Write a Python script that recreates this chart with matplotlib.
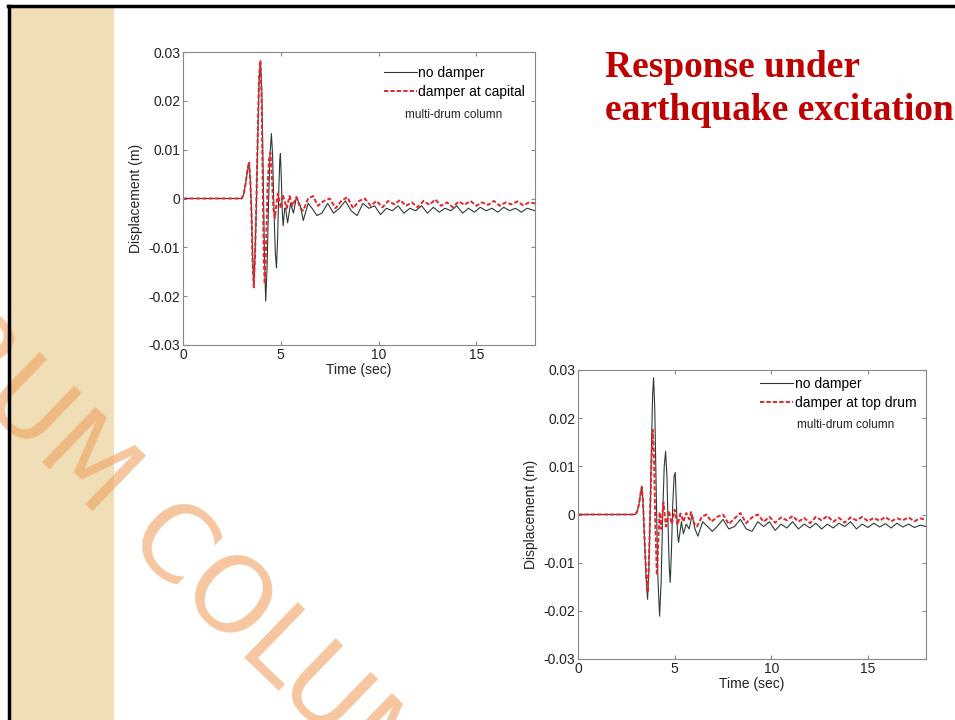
import matplotlib
matplotlib.use('Agg')
import matplotlib.pyplot as plt
from matplotlib.patches import Rectangle
from matplotlib.lines import Line2D

# ---- data (time in s, displacement in m) ----
# top plot: damper at capital
t1_nodamp = [0, 3.0, 3.1, 3.2, 3.3, 3.38, 3.44, 3.5, 3.56, 3.62, 3.68, 3.75, 3.82, 3.89, 3.96, 4.03,
             4.1, 4.17, 4.23, 4.3, 4.38, 4.45, 4.52, 4.58, 4.65, 4.72, 4.78, 4.84, 4.9, 4.95, 4.98, 5.03,
             5.08, 5.12, 5.2, 5.25, 5.35, 5.5, 5.65, 5.8,
             6.0, 6.15, 6.4, 6.6, 6.85, 7.1, 7.4, 7.7, 8.0, 8.3, 8.6, 8.9, 9.2, 9.5, 9.8, 10.1, 10.4,
             10.7, 11.0, 11.3, 11.6, 11.9, 12.2, 12.5, 12.8, 13.1, 13.4, 13.7, 14.0, 14.3, 14.6, 14.9,
             15.2, 15.5, 15.8, 16.1, 16.4, 16.7, 17.0, 17.3, 17.6, 18.0]
y1_nodamp = [0, 0, 0.0008, 0.003, 0.0058, 0.007, 0.004, -0.002, -0.012, -0.0178, -0.012, -0.002, 0.012,
             0.024, 0.028, 0.022, 0.005, -0.013, -0.021, -0.014, 0.0, 0.009, 0.0133, 0.009, -0.002, -0.011,
             -0.0142, -0.008, 0.002, 0.008, 0.0092, 0.004, -0.003, -0.0056, -0.002, -0.002,
             -0.005, -0.001, -0.003, 0.0003, -0.0015, -0.0045, -0.001, -0.002, -0.0035, -0.003, -0.001,
             -0.003, -0.002, -0.0005, -0.0025, -0.0035, -0.001, -0.002, -0.0015, -0.0033, -0.002, -0.0025,
             -0.0015, -0.003, -0.002, -0.0025, -0.0015, -0.003, -0.0018, -0.0028, -0.002, -0.0025, -0.0015,
             -0.003, -0.002, -0.0028, -0.0018, -0.0025, -0.002, -0.0028, -0.0018, -0.0025, -0.002, -0.0028,
             -0.002, -0.0025]
t1_damp = [0, 3.0, 3.1, 3.2, 3.3, 3.38, 3.44, 3.5, 3.56, 3.62, 3.68, 3.75, 3.82, 3.89, 3.96, 4.02, 4.08,
           4.13, 4.18, 4.24, 4.32, 4.4, 4.47, 4.54, 4.62, 4.7, 4.78, 4.85, 5.0, 5.1, 5.3, 5.45, 5.6, 5.8,
           6.0, 6.15, 6.4, 6.65, 6.9, 7.2, 7.5, 7.8, 8.1, 8.4, 8.7, 9.0, 9.3, 9.6, 9.9, 10.2, 10.5, 10.8,
           11.1, 11.4, 11.7, 12.0, 12.3, 12.6, 12.9, 13.2, 13.5, 13.8, 14.1, 14.4, 14.7, 15.0, 15.3, 15.6,
           15.9, 16.2, 16.5, 16.8, 17.1, 17.4, 17.7, 18.0]
y1_damp = [0, 0, 0.0008, 0.003, 0.006, 0.0075, 0.004, -0.003, -0.013, -0.0182, -0.012, -0.001, 0.013,
           0.025, 0.0283, 0.02, 0.002, -0.012, -0.0175, -0.011, 0.002, 0.008, 0.0094, 0.005, -0.002, -0.004,
           -0.001, 0.001, -0.002, 0.0008, -0.002, 0.0005, -0.0015, 0.0003, -0.002, -0.0025, 0.0, 0.0005,
           -0.0015, -0.0005, 0.0, -0.002, -0.0005, 0.0003, -0.002, -0.0005, 0.0, -0.0015, -0.0005, -0.0018,
           -0.0005, -0.0012, -0.0003, -0.0015, -0.0008, -0.0018, -0.0005, -0.0013, -0.0002, -0.0015,
           -0.0008, -0.0018, -0.0006, -0.0013, -0.0005, -0.0015, -0.0008, -0.0013, -0.0005, -0.0015,
           -0.0008, -0.0012, -0.0006, -0.0014, -0.0008, -0.001]

# bottom plot: damper at top drum
t2_nodamp = [0, 2.95, 3.05, 3.15, 3.24, 3.3, 3.36, 3.43, 3.52, 3.6, 3.66, 3.73, 3.8, 3.86, 3.91, 3.97,
             4.05, 4.13, 4.22, 4.3, 4.38, 4.46, 4.53, 4.6, 4.67, 4.72, 4.77, 4.83, 4.9, 4.97, 5.03, 5.09,
             5.15, 5.2, 5.35, 5.45, 5.6, 5.75, 5.9,
             6.05, 6.2, 6.45, 6.7, 6.95, 7.2, 7.5, 7.8, 8.1, 8.4, 8.7, 9.0, 9.3, 9.6, 9.9, 10.2, 10.5,
             10.8, 11.1, 11.4, 11.7, 12.0, 12.3, 12.6, 12.9, 13.2, 13.5, 13.8, 14.1, 14.4, 14.7, 15.0,
             15.3, 15.6, 15.9, 16.2, 16.5, 16.8, 17.1, 17.4, 17.7, 18.0]
y2_nodamp = [0, 0, 0.0005, 0.002, 0.0045, 0.0059, 0.003, -0.004, -0.013, -0.0176, -0.012, 0.0, 0.014,
             0.025, 0.0284, 0.022, 0.004, -0.013, -0.0211, -0.014, 0.0, 0.01, 0.0131, 0.008, -0.004, -0.011,
             -0.0141, -0.008, 0.002, 0.008, 0.0087, 0.002, -0.004, -0.0058, -0.0015,
             -0.004, -0.002, -0.003, 0.0, -0.003, -0.0045, -0.0015, -0.0025, -0.0035, -0.0025, -0.001,
             -0.003, -0.0025, -0.001, -0.003, -0.0035, -0.0015, -0.0025, -0.0015, -0.0033, -0.002, -0.0028,
             -0.0015, -0.003, -0.002, -0.0028, -0.0018, -0.003, -0.002, -0.0028, -0.0018, -0.0025, -0.0015,
             -0.003, -0.002, -0.0027, -0.0018, -0.0026, -0.0019, -0.0028, -0.0018, -0.0026, -0.002, -0.0027,
             -0.0022, -0.0025]
t2_damp = [0, 2.95, 3.05, 3.15, 3.24, 3.3, 3.36, 3.43, 3.52, 3.6, 3.66, 3.73, 3.8, 3.87, 3.93, 4.0, 4.08,
           4.15, 4.22, 4.3, 4.42, 4.55, 4.7, 4.85, 5.0, 5.15, 5.3, 5.45,
           5.6, 5.75, 5.85, 6.0, 6.15, 6.4, 6.65, 6.9, 7.2, 7.5, 7.8, 8.1, 8.4, 8.7, 9.0, 9.3, 9.6, 9.9,
           10.2, 10.5, 10.8, 11.1, 11.4, 11.7, 12.0, 12.3, 12.6, 12.9, 13.2, 13.5, 13.8, 14.1, 14.4, 14.7,
           15.0, 15.3, 15.6, 15.9, 16.2, 16.5, 16.8, 17.1, 17.4, 17.7, 18.0]
y2_damp = [0, 0, 0.0005, 0.002, 0.0045, 0.0057, 0.003, -0.004, -0.012, -0.0162, -0.011, 0.0, 0.011,
           0.0176, 0.012, -0.002, -0.0126, -0.006, 0.0005, -0.003, 0.0025, -0.0025, 0.0008,
           -0.002, 0.001, -0.0022, 0.0002, -0.0015, 0.0003, -0.001, 0.0005, -0.0018, -0.0025, -0.0005, 0.0,
           -0.0015, -0.0005, 0.0, -0.002, -0.0008, 0.0003, -0.0018, -0.0006, 0.0, -0.0015, -0.0005, -0.0017,
           -0.0006, -0.0012, -0.0003, -0.0015, -0.0007, -0.0018, -0.0005, -0.0012, -0.0003, -0.0015, -0.0007,
           -0.0017, -0.0006, -0.0012, -0.0005, -0.0014, -0.0007, -0.0013, -0.0005, -0.0014, -0.0008, -0.0012,
           -0.0006, -0.0014, -0.0008, -0.0011]

xticks = [0, 5, 10, 15]
yticks = [-0.03, -0.02, -0.01, 0, 0.01, 0.02, 0.03]
ytick_labels = ['-0.03', '-0.02', '-0.01', '0', '0.01', '0.02', '0.03']

plt.rcParams['font.family'] = ['Liberation Sans', 'DejaVu Sans']

fig = plt.figure(figsize=(9.55, 7.2), dpi=100)
fig.patch.set_facecolor('white')

# slide decoration: beige strip + black frame
fig.patches.append(Rectangle((10 / 955, 0), 104 / 955, 1 - 7 / 720, transform=fig.transFigure,
                             facecolor='#efdeb6', edgecolor='none', zorder=0))
fig.add_artist(Line2D([9 / 955, 9 / 955], [0, 1 - 6 / 720], transform=fig.transFigure, color='black', lw=2.5))
fig.add_artist(Line2D([8 / 955, 1], [1 - 6 / 720, 1 - 6 / 720], transform=fig.transFigure, color='black', lw=2.5))

# watermark (runs off the slide edges, as in the original)
fig.text(181 / 955, 1 - 556 / 720, 'RUM COLUM', rotation=-44, rotation_mode='anchor', ha='center',
         va='center', fontsize=76, color='#f0a060', alpha=0.6, family='DejaVu Sans', zorder=1)

# title
fig.text(605 / 955, 1 - 120 / 720, 'Response under\nearthquake excitation', ha='left', va='baseline',
         fontsize=27, fontweight='bold', family='Liberation Serif', color='#c00000', linespacing=1.3)


def draw_panel(rect, t_a, y_a, t_b, y_b, label_b, leg_y, note_y):
    ax = fig.add_axes(rect)
    ax.plot(t_a, y_a, color='#2b3b36', lw=0.8, label='no damper')
    ax.plot(t_b, y_b, color='#e3262b', lw=1.4, ls=(0, (2.2, 1.1)), label=label_b)
    ax.set_xlim(0, 18)
    ax.set_ylim(-0.03, 0.03)
    ax.set_xticks(xticks)
    ax.set_yticks(yticks)
    ax.set_yticklabels(ytick_labels)
    ax.tick_params(direction='in', length=3, top=True, right=True, labelsize=10,
                   color='#888888', labelcolor='#222222', pad=2)
    for s in ax.spines.values():
        s.set_color('#888888')
        s.set_linewidth(0.8)
    ax.set_xlabel('Time (sec)', fontsize=10, labelpad=1, color='#222222')
    ax.set_ylabel('Displacement (m)', fontsize=10, labelpad=4, color='#222222')
    ax.legend(loc='upper right', bbox_to_anchor=(1.0, leg_y), frameon=False, fontsize=10,
              handlelength=2.4, handletextpad=0.1, borderaxespad=0.3, labelspacing=0.35)
    ax.text(0.63, note_y, 'multi-drum column', transform=ax.transAxes, fontsize=8.5, va='center',
            color='#222222')
    return ax


draw_panel([183 / 955, 1 - 345 / 720, 352 / 955, 293 / 720], t1_nodamp, y1_nodamp, t1_damp, y1_damp,
           'damper at capital', 0.985, 0.785)
draw_panel([578 / 955, 1 - 659 / 720, 348 / 955, 289 / 720], t2_nodamp, y2_nodamp, t2_damp, y2_damp,
           'damper at top drum', 1.01, 0.81)

plt.savefig('out.png', dpi=100)
